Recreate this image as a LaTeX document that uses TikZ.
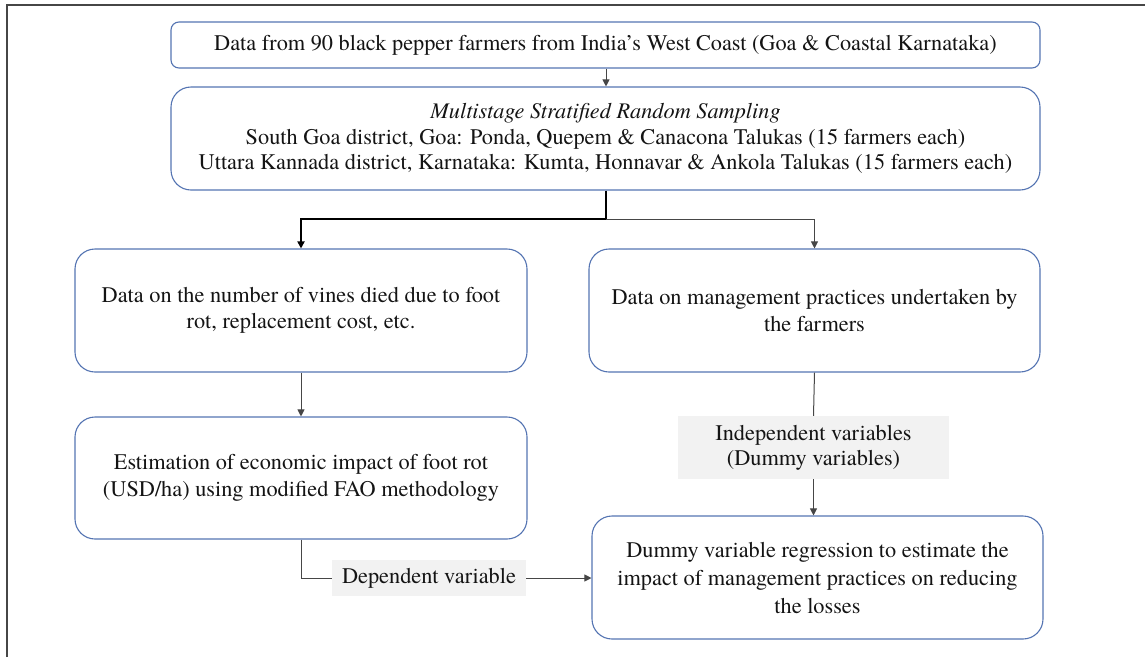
\documentclass[tikz,border=0pt]{standalone}
\usepackage{fontspec}
\setmainfont{texgyretermes}[Extension=.otf, UprightFont=*-regular, ItalicFont=*-italic, BoldFont=*-bold, BoldItalicFont=*-bolditalic]
\usetikzlibrary{arrows.meta}
\definecolor{boxblue}{RGB}{84,116,178}
\definecolor{lblgray}{RGB}{242,242,242}
\definecolor{txt}{RGB}{20,20,20}
\definecolor{linegray}{RGB}{70,70,70}
\tikzset{
  flowbox/.style={draw=boxblue, line width=1.1pt, rounded corners=20pt, align=center, text=txt, inner sep=0pt,
    font=\fontsize{22.3}{26.5}\selectfont},
  lbl/.style={fill=lblgray, draw=none, align=center, text=txt, inner sep=0pt, font=\fontsize{22.3}{25}\selectfont},
  conn/.style={draw=linegray, line width=1pt},
  arr/.style={conn, -{Triangle[length=7pt,width=7pt]}},
  boldarr/.style={draw=black, line width=2pt, -{Triangle[length=7pt,width=7pt]}},
}
\begin{document}
\begin{tikzpicture}[x=1pt,y=-1pt]
\useasboundingbox (0,0) rectangle (1145,657);
\draw[draw=linegray, line width=1.3pt] (7,657) -- (7,5) -- (1145,5);

\node[flowbox, rounded corners=8pt, minimum width=869pt, minimum height=46pt] (b1) at (605.5,45)
  {Data from 90 black pepper farmers from India’s West Coast (Goa \& Coastal Karnataka)};
\node[flowbox, minimum width=869pt, minimum height=103pt, font=\fontsize{22.3}{25.5}\selectfont] (b2) at (605.5,138.5)
  {\textit{Multistage Stratified Random Sampling}\\
   South Goa district, Goa: Ponda, Quepem \& Canacona Talukas (15 farmers each)\\
   Uttara Kannada district, Karnataka: Kumta, Honnavar \& Ankola Talukas (15 farmers each)};
\node[flowbox, minimum width=452pt, minimum height=123pt] (b3) at (301,310.5)
  {Data on the number of vines died due to foot\\ rot, replacement cost, etc.};
\node[flowbox, minimum width=451pt, minimum height=123pt] (b4) at (814.5,310.5)
  {Data on management practices undertaken by\\ the farmers};
\node[flowbox, minimum width=452pt, minimum height=122pt] (b5) at (301,478)
  {Estimation of economic impact of foot rot\\ (USD/ha) using modified FAO methodology};
\node[flowbox, minimum width=451pt, minimum height=123pt, font=\fontsize{22.3}{28}\selectfont] (b6) at (817.5,577.5)
  {Dummy variable regression to estimate the\\ impact of management practices on reducing\\ the losses};
\node[lbl, minimum width=271pt, minimum height=63pt] (li) at (813.5,447.5)
  {Independent variables\\ (Dummy variables)};
\node[lbl, minimum width=194pt, minimum height=36pt] (ld) at (429,578)
  {Dependent variable};

\coordinate (cA) at (606,0);
\coordinate (j) at (606,219);

\draw[arr] (b1.south -| cA) -- (b2.north -| cA);
\draw[draw=black, line width=2pt] (b2.south -| j) -- (j);
\draw[boldarr] (j) -| (b3.north);
\draw[arr] (j) -| (b4.north);
\draw[arr] (b3.south) -- (b5.north);
\draw[conn] (b4.south) -- (li.north);
\draw[arr] (li.south) -- (li.south |- b6.north);
\draw[conn] (b5.south) |- (ld.west);
\draw[arr] (ld.east) -- (b6.west |- ld.east);
\end{tikzpicture}
\end{document}
